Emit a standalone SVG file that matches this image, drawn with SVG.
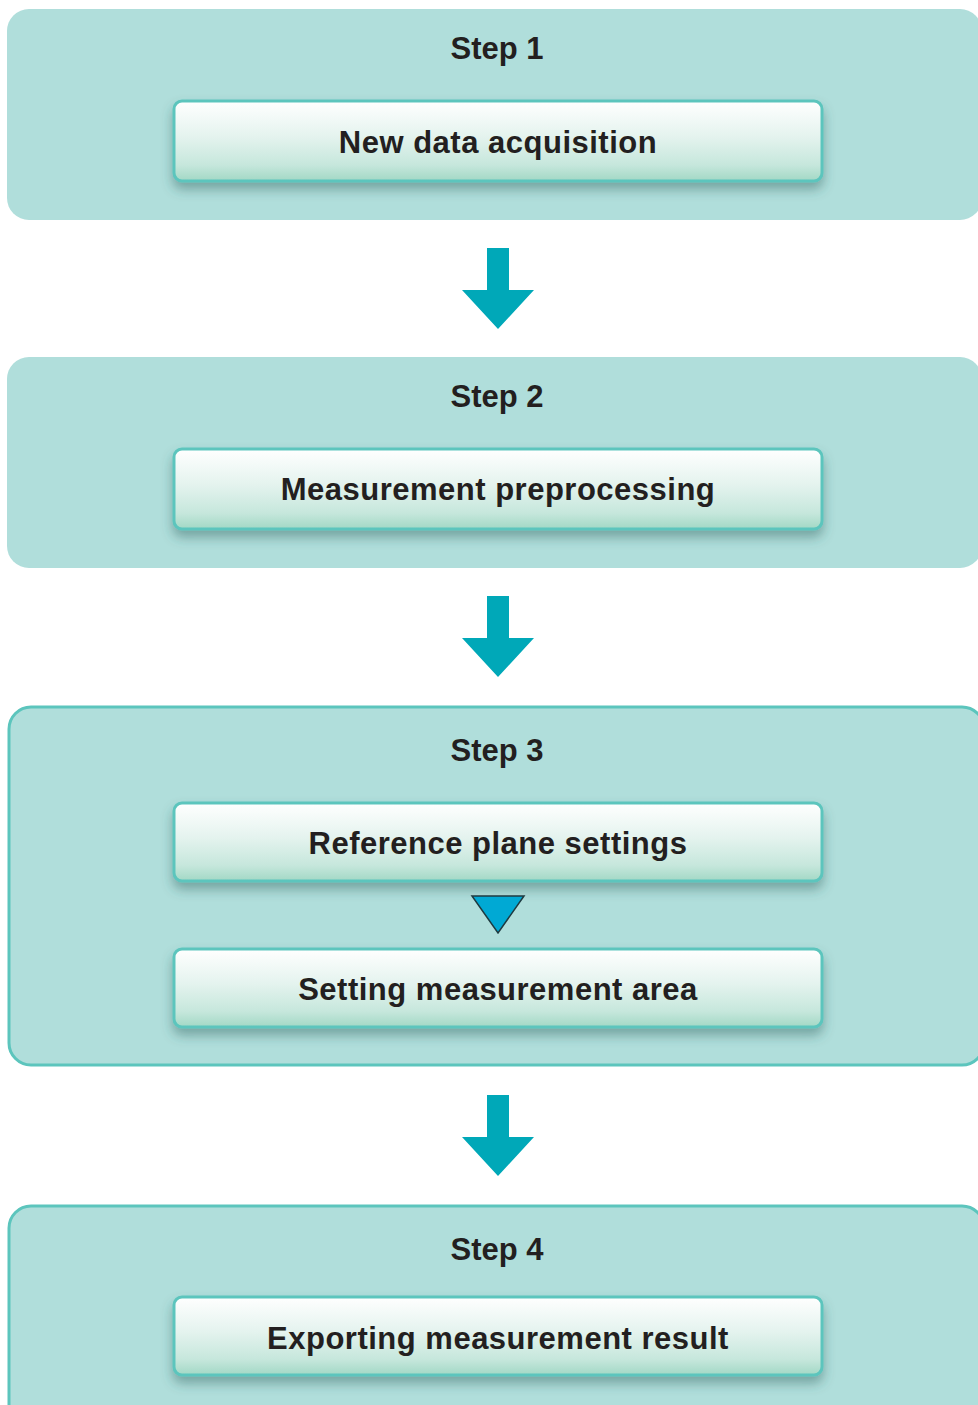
<svg xmlns="http://www.w3.org/2000/svg" width="978" height="1405" viewBox="0 0 978 1405">
  <defs>
    <linearGradient id="boxFill" x1="0" y1="0" x2="0" y2="1">
      <stop offset="0" stop-color="#ffffff"/>
      <stop offset="0.45" stop-color="#e4f3ee"/>
      <stop offset="0.8" stop-color="#c6e7dc"/>
      <stop offset="1" stop-color="#a2d8c5"/>
    </linearGradient>
    <filter id="boxShadow" x="-10%" y="-30%" width="120%" height="180%">
      <feDropShadow dx="0" dy="7" stdDeviation="6" flood-color="#2f5f5c" flood-opacity="0.45"/>
    </filter>
  </defs>
  <style>
    .panel { fill: #b0dedb; }
    .panel-outlined { fill: #b0dedb; stroke: #5cc5bd; stroke-width: 3; }
    .box { fill: url(#boxFill); stroke: #5cc5bd; stroke-width: 3; filter: url(#boxShadow); }
    .title { font-family: "Liberation Sans", Arial, sans-serif; font-weight: bold; font-size: 31px; fill: #231f20; text-anchor: middle; }
    .label { font-family: "Liberation Sans", Arial, sans-serif; font-weight: bold; font-size: 31px; letter-spacing: 0.5px; fill: #231f20; text-anchor: middle; }
    .flow-arrow { fill: #00a8b8; }
    .sub-arrow { fill: #00a9d4; stroke: #1e3a40; stroke-width: 1.5; stroke-linejoin: miter; }
  </style>

  <!-- Step 1 -->
  <g id="step1">
    <rect class="panel" x="7" y="9" width="975" height="211" rx="22"/>
    <text class="title" x="497" y="59">Step 1</text>
    <g id="step1-task">
      <rect class="box" x="174" y="101" width="648" height="80" rx="8"/>
      <text class="label" x="498" y="153">New data acquisition</text>
    </g>
  </g>

  <!-- Step 2 -->
  <g id="step2">
    <rect class="panel" x="7" y="357" width="975" height="211" rx="22"/>
    <text class="title" x="497" y="407">Step 2</text>
    <g id="step2-task">
      <rect class="box" x="174" y="449" width="648" height="80" rx="8"/>
      <text class="label" x="498" y="500">Measurement preprocessing</text>
    </g>
  </g>

  <!-- Step 3 -->
  <g id="step3">
    <rect class="panel-outlined" x="9" y="707" width="975" height="358" rx="22"/>
    <text class="title" x="497" y="761">Step 3</text>
    <g id="step3-task-a">
      <rect class="box" x="174" y="803" width="648" height="78" rx="8"/>
      <text class="label" x="498" y="854">Reference plane settings</text>
    </g>
    <g id="step3-task-b">
      <rect class="box" x="174" y="949" width="648" height="78" rx="8"/>
      <text class="label" x="498" y="1000">Setting measurement area</text>
    </g>
  </g>

  <!-- Step 4 -->
  <g id="step4">
    <rect class="panel-outlined" x="9" y="1206" width="975" height="230" rx="22"/>
    <text class="title" x="497" y="1260">Step 4</text>
    <g id="step4-task">
      <rect class="box" x="174" y="1297" width="648" height="78" rx="8"/>
      <text class="label" x="498" y="1349">Exporting measurement result</text>
    </g>
  </g>

  <!-- Connectors -->
  <g id="connectors">
    <polygon class="flow-arrow" points="487,248 509,248 509,290 534,290 498,329 462,290 487,290"/>
    <polygon class="flow-arrow" points="487,596 509,596 509,638 534,638 498,677 462,638 487,638"/>
    <polygon class="flow-arrow" points="487,1095 509,1095 509,1137 534,1137 498,1176 462,1137 487,1137"/>
    <polygon class="sub-arrow" points="472,896 524,896 498,933"/>
  </g>
</svg>
